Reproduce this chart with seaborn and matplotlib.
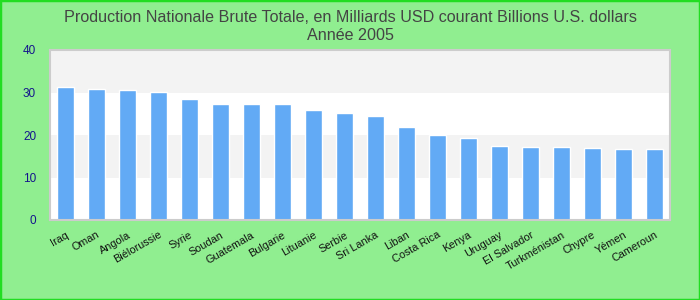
import matplotlib
matplotlib.use("Agg")
import matplotlib.pyplot as plt
import seaborn as sns
import pandas as pd
from matplotlib.patches import Rectangle

countries = ["Iraq", "Oman", "Angola", "Biélorussie", "Syrie", "Soudan", "Guatemala",
             "Bulgarie", "Lituanie", "Serbie", "Sri Lanka", "Liban", "Costa Rica", "Kenya",
             "Uruguay", "El Salvador", "Turkménistan", "Chypre", "Yémen", "Cameroun"]
values = [31.3, 30.8, 30.6, 30.1, 28.5, 27.3, 27.3, 27.3, 25.9, 25.2, 24.5, 21.9,
          20.0, 19.3, 17.4, 17.2, 17.2, 16.9, 16.7, 16.7]
yticks = [0, 10, 20, 30, 40]
title = "Production Nationale Brute Totale, en Milliards USD courant Billions U.S. dollars\nAnnée 2005"

sns.set_theme(style="white")
plt.rcParams['font.family'] = ['Liberation Sans', 'DejaVu Sans']

df = pd.DataFrame({"pays": countries, "valeur": values})

fig = plt.figure(figsize=(7, 3), dpi=100, facecolor="#90ee90")
ax = fig.add_axes([50/700, 1 - 220/300, 620/700, 170/300])
ax.set_facecolor("white")

# alternating bands
for i in range(len(yticks) - 1):
    if i % 2 == 1:
        ax.axhspan(yticks[i], yticks[i + 1], color="#f3f3f3", zorder=0, lw=0)

sns.barplot(data=df, x="pays", y="valeur", color="#62aaf5", width=0.55,
            saturation=1, ax=ax, zorder=2)

ax.set_ylim(0, 40)
ax.set_xlim(-0.5, len(countries) - 0.5)
ax.set_yticks(yticks)
ax.set_yticklabels([str(t) for t in yticks], color="#14148c", fontsize=8.5)
ax.tick_params(axis="y", length=0, pad=10)
ax.tick_params(axis="x", length=0, pad=7)
ax.set_xticks(range(len(countries)))
ax.set_xticklabels(countries, rotation=30, ha="right", rotation_mode="anchor",
                   fontsize=7.8, color="#111111")
ax.set_xlabel("")
ax.set_ylabel("")
for s in ax.spines.values():
    s.set_color("#cccccc")
    s.set_linewidth(1.5)

lines = title.split("\n")
fig.text(0.5, 1 - 17/300, lines[0], ha="center", va="center",
         fontsize=11.6, color="#444444")
fig.text(0.5, 1 - 35/300, lines[1], ha="center", va="center",
         fontsize=11.6, color="#444444")

fig.patches.append(Rectangle((0, 0), 1, 1, transform=fig.transFigure, fill=False,
                             edgecolor="#22dd22", linewidth=2.5, zorder=10))

fig.savefig("out.png", dpi=100, facecolor=fig.get_facecolor())
